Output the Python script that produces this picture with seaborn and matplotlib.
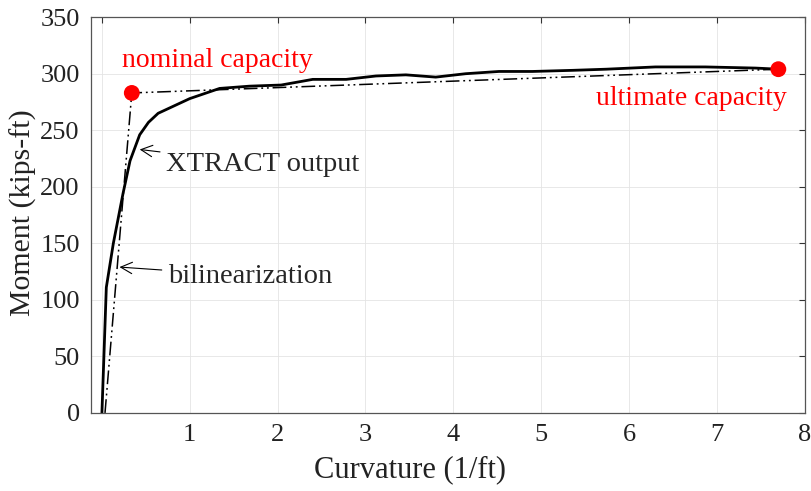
import numpy as np
import pandas as pd
import matplotlib
matplotlib.use("Agg")
import matplotlib.pyplot as plt
import seaborn as sns

# XTRACT moment-curvature output
xtract_curv = [0.0, 0.05, 0.13, 0.24, 0.32, 0.43, 0.53, 0.64, 1.0, 1.34, 1.68, 2.04,
               2.4, 2.78, 3.12, 3.46, 3.8, 4.14, 4.52, 4.9, 5.36, 5.74, 6.3, 6.87, 7.44, 7.7]
xtract_mom = [0, 111, 150, 194, 223, 246, 257, 265, 278, 287, 289, 290,
              295, 295, 298, 299, 297, 300, 302, 302, 303, 304, 306, 306, 305, 304]

# bilinearization
bil_curv = [0.035, 0.34, 7.7]
bil_mom = [0, 283, 304]

# key points
pt_curv = [0.34, 7.7]
pt_mom = [283, 304]
pt_labels = ["nominal capacity", "ultimate capacity"]

x_ticks = [0, 1, 2, 3, 4, 5, 6, 7, 8]
x_ticklabels = ["", "1", "2", "3", "4", "5", "6", "7", "8"]
y_ticks = [0, 50, 100, 150, 200, 250, 300, 350]

sns.set_style("white")
plt.rcParams["font.family"] = ["Liberation Serif", "DejaVu Serif"]

fig = plt.figure(figsize=(8.12, 4.91), dpi=100)
ax = fig.add_axes([0.112, 0.159, 0.879, 0.806])

df_x = pd.DataFrame({"curv": xtract_curv, "mom": xtract_mom})
df_b = pd.DataFrame({"curv": bil_curv, "mom": bil_mom})
df_p = pd.DataFrame({"curv": pt_curv, "mom": pt_mom})

sns.lineplot(data=df_b, x="curv", y="mom", sort=False, ax=ax, color="black",
             linewidth=1.1, dashes=False, estimator=None)
ax.lines[-1].set_dashes((9, 2.5, 1.2, 2.5, 1.2, 2.5))
sns.lineplot(data=df_x, x="curv", y="mom", sort=False, ax=ax, color="black",
             linewidth=2.0, estimator=None)
sns.scatterplot(data=df_p, x="curv", y="mom", ax=ax, color="red", s=130,
                edgecolor="none", zorder=5)

ax.set_xlim(-0.125, 8)
ax.set_ylim(0, 350)
ax.set_xticks(x_ticks)
ax.set_xticklabels(x_ticklabels)
ax.set_yticks(y_ticks)
ax.grid(True, color="#e4e4e4", linewidth=0.6)
ax.set_axisbelow(True)
ax.tick_params(direction="in", top=True, right=True, length=4, width=0.8,
               labelsize=19, colors="#333333", labelcolor="#222222", pad=8)
for s in ax.spines.values():
    s.set_color("#555555")
    s.set_linewidth(0.9)

ax.set_xlabel("Curvature (1/ft)", fontsize=22, color="#222222")
ax.set_ylabel("Moment (kips-ft)", fontsize=21.5, color="#222222")
ax.xaxis.set_label_coords(0.447, -0.106)
ax.yaxis.set_label_coords(-0.076, 0.505)

ax.text(0.34 - 0.11, 312, pt_labels[0], color="red", fontsize=20,
        ha="left", va="center")
ax.text(7.7 + 0.1, 278, pt_labels[1], color="red", fontsize=20,
        ha="right", va="center")

ax.annotate("XTRACT output", xy=(0.43, 233), xytext=(0.73, 220),
            fontsize=20.5, ha="left", va="center",
            arrowprops=dict(arrowstyle="->", color="black", lw=0.8,
                            shrinkA=2, shrinkB=0))
ax.annotate("bilinearization", xy=(0.2, 129), xytext=(0.75, 121),
            fontsize=20.5, ha="left", va="center",
            arrowprops=dict(arrowstyle="->", color="black", lw=0.8,
                            shrinkA=2, shrinkB=0))

fig.savefig("out.png", dpi=100)
